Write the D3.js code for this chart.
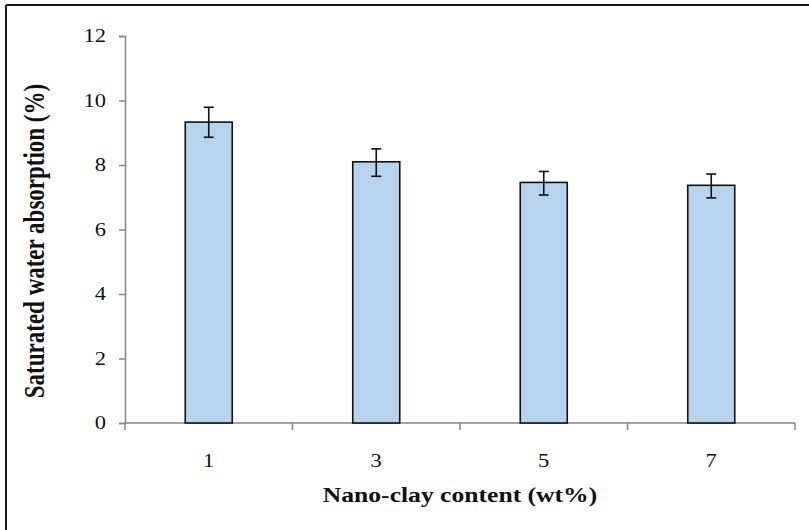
<!DOCTYPE html>
<meta charset="utf-8">
<style>
  body { margin: 0; background: #fff; }
  svg { font-family: 'Liberation Serif', 'Times New Roman', serif; }
</style>
<script src="https://d3js.org/d3.v7.min.js"></script>
<body>
<svg id="chart" width="809" height="530"></svg>
<script>
// values
var categories = ["1", "3", "5", "7"];
var absorption = [9.33, 8.10, 7.46, 7.37];
var errHigh = [9.79, 8.50, 7.80, 7.72];
var errLow = [8.86, 7.65, 7.07, 6.98];
var yTicks = [0, 2, 4, 6, 8, 10, 12];

var svg = d3.select("#chart");
var stretch = 1.25; // the original picture is a bit wider than tall

// frame (only top and left edges visible in the original)
svg.append("line").attr("x1", 6).attr("x2", 809).attr("y1", 5).attr("y2", 5)
  .attr("stroke", "#1a1a1a").attr("stroke-width", 2);
svg.append("line").attr("x1", 6).attr("x2", 6).attr("y1", 5).attr("y2", 530)
  .attr("stroke", "#1a1a1a").attr("stroke-width", 2);

var x = d3.scaleBand().domain(categories).range([125, 795]).paddingInner(0).paddingOuter(0);
var y = d3.scaleLinear().domain([0, 12]).range([423, 36]);

// y axis
var yAxis = svg.append("g")
  .attr("transform", "translate(125,0)")
  .call(d3.axisLeft(y).tickValues(yTicks).tickSize(6));
yAxis.select(".domain").attr("stroke", "#868686").attr("stroke-width", 1.5);
yAxis.selectAll(".tick line").attr("stroke", "#868686").attr("stroke-width", 1.5);
yAxis.selectAll("text")
  .attr("x", 0)
  .attr("transform", "translate(-19,0) scale(" + stretch + ",1)")
  .attr("font-size", 18).attr("fill", "#111")
  .attr("font-family", "'Liberation Serif', serif");

// x axis: ticks at band boundaries, labels at band centres
var xAxisG = svg.append("g").attr("transform", "translate(0,423)");
xAxisG.append("line").attr("x1", 125).attr("x2", 795)
  .attr("stroke", "#868686").attr("stroke-width", 1.5);
var edges = categories.map(function(c) { return x(c); }).concat([x.range()[1]]);
xAxisG.selectAll("line.tk").data(edges).enter().append("line")
  .attr("class", "tk")
  .attr("x1", function(d) { return d; }).attr("x2", function(d) { return d; })
  .attr("y1", 0).attr("y2", 7)
  .attr("stroke", "#868686").attr("stroke-width", 1.5);
xAxisG.selectAll("text").data(categories).enter().append("text")
  .attr("transform", function(d) {
    return "translate(" + (x(d) + x.bandwidth() / 2) + ",44) scale(" + stretch + ",1)";
  })
  .attr("text-anchor", "middle")
  .attr("font-size", 18)
  .attr("fill", "#111")
  .text(function(d) { return d; });

// bars
var barW = 47;
svg.selectAll("rect.bar").data(absorption).enter().append("rect")
  .attr("class", "bar")
  .attr("x", function(d, i) { return x(categories[i]) + x.bandwidth() / 2 - barW / 2; })
  .attr("y", function(d) { return y(d); })
  .attr("width", barW)
  .attr("height", function(d) { return y(0) - y(d); })
  .attr("fill", "#b7d4ec")
  .attr("stroke", "#111")
  .attr("stroke-width", 1.6);

// error bars
var eb = svg.append("g").attr("stroke", "#111").attr("stroke-width", 1.6);
categories.forEach(function(c, i) {
  var cx = x(c) + x.bandwidth() / 2;
  eb.append("line").attr("x1", cx).attr("x2", cx).attr("y1", y(errHigh[i])).attr("y2", y(errLow[i]));
  eb.append("line").attr("x1", cx - 5).attr("x2", cx + 5).attr("y1", y(errHigh[i])).attr("y2", y(errHigh[i]));
  eb.append("line").attr("x1", cx - 5).attr("x2", cx + 5).attr("y1", y(errLow[i])).attr("y2", y(errLow[i]));
});

// axis titles
svg.append("text")
  .attr("transform", "translate(460,502) scale(1.22,1)")
  .attr("text-anchor", "middle")
  .attr("font-size", 21).attr("font-weight", "bold").attr("fill", "#111")
  .text("Nano-clay content (wt%)");

svg.append("text")
  .attr("transform", "translate(44,241) rotate(-90) scale(1," + stretch + ")")
  .attr("text-anchor", "middle")
  .attr("font-size", 23).attr("font-weight", "bold").attr("fill", "#111")
  .text("Saturated water absorption (%)");
</script>
</body>
